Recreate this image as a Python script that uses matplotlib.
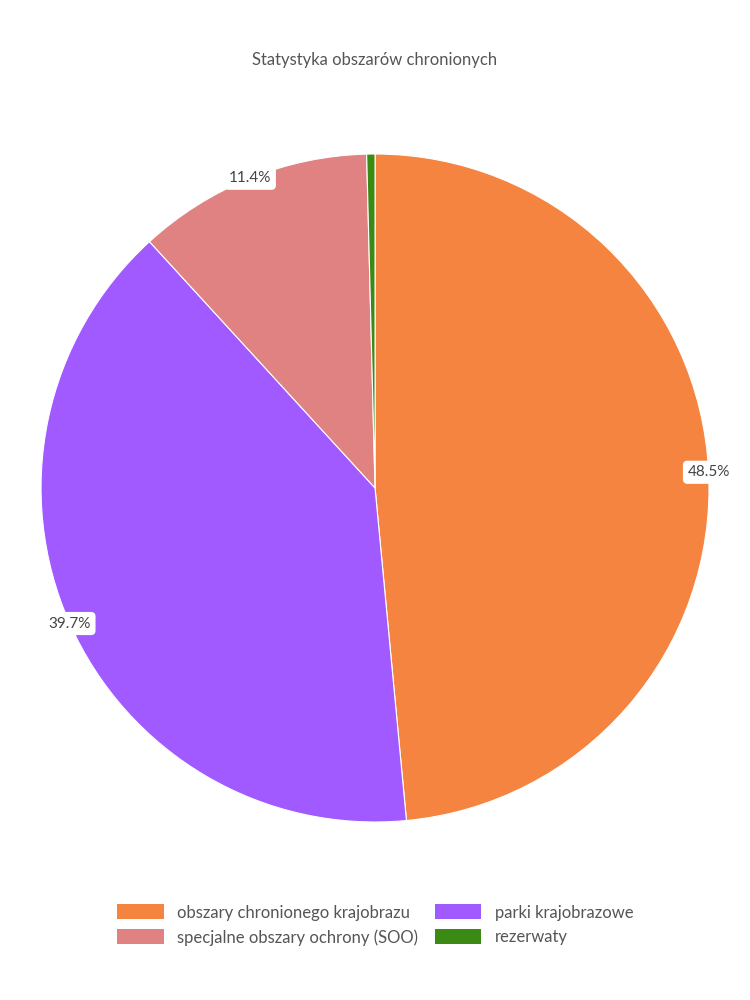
import matplotlib
matplotlib.use("Agg")
import matplotlib.pyplot as plt
import numpy as np
from matplotlib.patches import Patch

categories = ["obszary chronionego krajobrazu", "parki krajobrazowe", "specjalne obszary ochrony (SOO)", "rezerwaty"]
values = [48.5, 39.7, 11.4, 0.4]
colors = ["#F4843F", "#A05AFF", "#E08282", "#3A8A13"]

plt.rcParams['font.family'] = ['Lato', 'DejaVu Sans']
fig = plt.figure(figsize=(7.5, 10), dpi=100)
fig.text(0.5, 0.94, "Statystyka obszarów chronionych", ha="center", va="center", fontsize=12, color="#555555")
ax = fig.add_axes([0.5 - 0.4453, 0.512 - 0.334, 0.8907, 0.668])
wedges, _ = ax.pie(values, colors=colors, startangle=90, counterclock=False,
                   wedgeprops=dict(edgecolor="white", linewidth=0.8))
ax.set_xlim(-1, 1); ax.set_ylim(-1, 1); ax.set_aspect("equal")
total = sum(values)
for w, v in zip(wedges, values):
    if v / total < 0.02:
        continue
    ang = np.deg2rad((w.theta1 + w.theta2) / 2)
    ax.text(np.cos(ang), np.sin(ang), f"{v}%", ha="center", va="center", fontsize=11, color="#444444",
            bbox=dict(boxstyle="round,pad=0.3", fc="white", ec="none"))
order = [0, 2, 1, 3]
handles = [Patch(facecolor=colors[i], label=categories[i]) for i in order]
fig.legend(handles=handles, loc="center", bbox_to_anchor=(0.5, 0.075), ncol=2, frameon=False,
           fontsize=12, handlelength=2.8, handleheight=1.0, columnspacing=1.0, labelcolor="#555555")
fig.savefig("out.png", dpi=100, facecolor="white")
